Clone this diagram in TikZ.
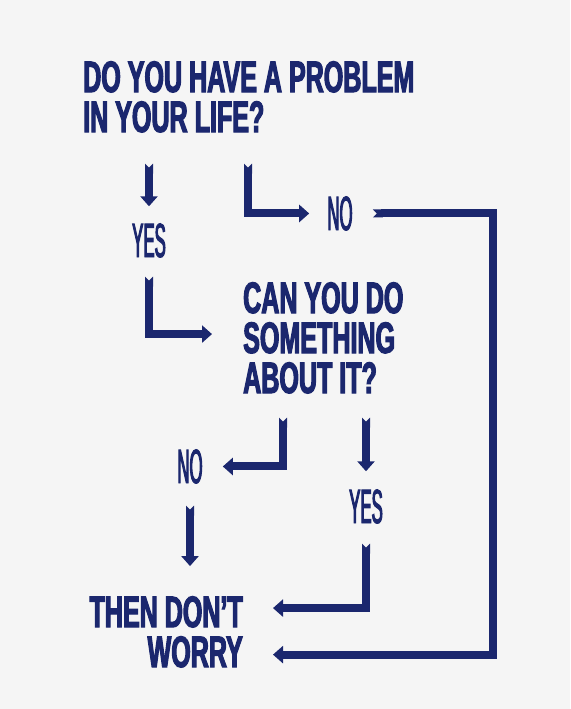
\documentclass[tikz,border=0pt]{standalone}
\usepackage{fontspec}
\usetikzlibrary{arrows.meta}

\newfontfamily\headfont[FakeStretch=0.57,FakeBold=2.5]{Liberation Sans Bold}
\newfontfamily\answerfont[FakeStretch=0.35,FakeBold=2]{Liberation Sans}

\definecolor{navy}{RGB}{27,39,110}
\definecolor{paper}{RGB}{245,245,245}

\tikzset{
  question/.style={font=\headfont\fontsize{44}{40}\selectfont, text=navy, inner sep=0pt},
  answer/.style={font=\answerfont\fontsize{48}{48}\selectfont, text=navy, inner sep=0pt},
  flow/.style={draw=navy, line width=8pt, line join=miter,
    arrows={Triangle Cap[reversed]-Triangle[length=10pt,width=17pt]}}
}

\begin{document}
\begin{tikzpicture}[x=1pt, y=-1pt]
      \fill[paper] (0,0) rectangle (570,709);
      \useasboundingbox (0,0) rectangle (570,709);

      % base of a block is the base of its last line
      \node[question, anchor=base west, align=left] (life) at (83,132) {DO YOU HAVE A PROBLEM\\IN YOUR LIFE?};

      \node[answer, anchor=base] (yesa) at (149,257) {YES};

      \node[answer, anchor=base] (noa) at (340,230) {NO};

      \node[question, anchor=base west, align=left] (fix) at (243,393) {CAN YOU DO\\SOMETHING\\ABOUT IT?};

      \node[answer, anchor=base] (nob) at (190,483) {NO};

      \node[answer, anchor=base] (yesb) at (366,523) {YES};

      \node[question, anchor=base east, align=right] (calm) at (243,667) {THEN DON’T\\WORRY};

      \coordinate (edge) at (493,0);

      % first question
      \draw[flow, shorten <=31pt, shorten >=17pt] (life.south -| yesa) -- (yesa.north);

      \draw[flow, shorten <=31pt, shorten >=18pt] ([xshift=165pt]life.south west) |- (noa.west);

      \draw[flow, shorten <=20pt, shorten >=30pt] (noa.east) -- (noa.east -| edge) |- ([yshift=13pt]calm.south east);

      \draw[flow, shorten <=19pt, shorten >=31pt] (yesa.south) |- ([yshift=-52pt]fix.north west);

      % second question
      \draw[flow, shorten <=24pt, shorten >=20pt] ([xshift=40pt]fix.south west) |- (nob.east);

      \draw[flow, shorten <=24pt, shorten >=18pt] (fix.south -| yesb) -- (yesb.north);

      \draw[flow, shorten <=22pt, shorten >=30pt] (nob.south) -- (nob.south |- calm.north);

      \draw[flow, shorten <=20pt, shorten >=30pt] (yesb.south) |- ([yshift=-12pt]calm.north east);
    \end{tikzpicture}
\end{document}
